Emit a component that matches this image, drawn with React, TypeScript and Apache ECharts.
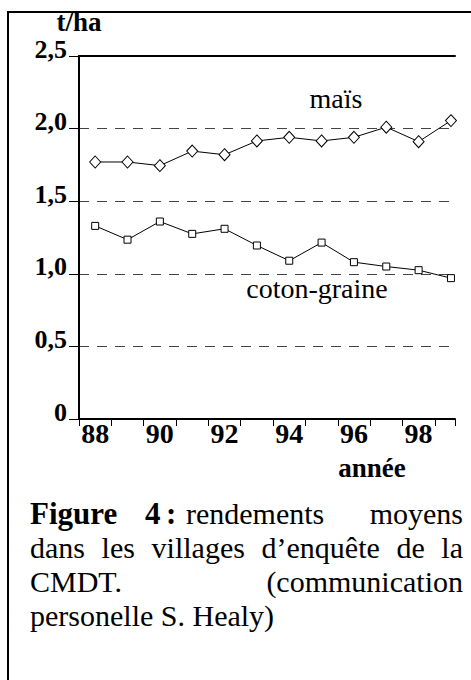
import React, { useEffect, useRef } from 'react';
import * as echarts from 'echarts';

// ---- data ----
const years = [88, 89, 90, 91, 92, 93, 94, 95, 96, 97, 98, 99];
const maisValues = [1.77, 1.77, 1.745, 1.845, 1.82, 1.915, 1.94, 1.915, 1.94, 2.01, 1.91, 2.055];
const cotonValues = [1.33, 1.235, 1.36, 1.275, 1.31, 1.195, 1.09, 1.215, 1.08, 1.05, 1.025, 0.97];
const xLabelYears = [88, 90, 92, 94, 96, 98];
const yTickLabels = ['0', '0,5', '1,0', '1,5', '2,0', '2,5'];
const seriesNames = ['maïs', 'coton-graine'];
const yAxisName = 't/ha';
const xAxisName = 'année';
const captionLine1 = ['Figure', '4', ':', 'rendements', 'moyens'];
const captionLine2 = ['dans', 'les', 'villages', 'd’enquête', 'de', 'la'];
const captionLine3 = ['CMDT.', '(communication'];
const captionLine4 = 'personelle S. Healy)';

const FONT = '"Liberation Serif", "Times New Roman", serif';

function measure(text: string, size: number, bold: boolean): number {
  const c = document.createElement('canvas').getContext('2d');
  if (!c) return text.length * size * 0.5;
  c.font = `${bold ? 'bold ' : ''}${size}px "Liberation Serif"`;
  return c.measureText(text).width;
}

function txt(text: string, x: number, y: number, size: number, bold: boolean, align = 'left') {
  return {
    type: 'text',
    x,
    y,
    silent: true,
    style: {
      text,
      fontFamily: FONT,
      fontSize: size,
      fontWeight: bold ? 'bold' : 'normal',
      fill: '#000',
      align,
      verticalAlign: 'middle',
    },
  };
}

export default function App() {
  const ref = useRef<HTMLDivElement>(null);

  useEffect(() => {
    if (!ref.current) return;
    const chart = echarts.init(ref.current, undefined, { renderer: 'svg' });

    const capSize = 30;
    const left = 30;
    const right = 463;
    // justify line 2
    const w2 = captionLine2.map((w) => measure(w, capSize, false));
    const sum2 = w2.reduce((a, b) => a + b, 0);
    const gap2 = (right - left - sum2) / (captionLine2.length - 1);
    const line2: any[] = [];
    let cx = left;
    captionLine2.forEach((w, i) => {
      line2.push(txt(w, cx, 547, capSize, false, 'left'));
      cx += w2[i] + gap2;
    });

    const option: any = {
      animation: false,
      grid: { left: 79, top: 56, right: 16, bottom: 261, containLabel: false, outerBoundsMode: 'none' },
      xAxis: [
        {
          type: 'value',
          position: 'bottom',
          min: 87.5,
          max: 99.125,
          interval: 0.5,
          axisLine: { show: true, onZero: false, lineStyle: { color: '#000', width: 2 } },
          axisTick: { show: false },
          splitLine: { show: false },
          axisLabel: {
            margin: 0,
            color: '#000',
            fontFamily: FONT,
            fontWeight: 'bold',
            fontSize: 28,
            formatter: (v: number) => {
              const r = Math.round(v);
              return Math.abs(v - r) < 1e-6 && xLabelYears.indexOf(r) >= 0 ? String(r) : '';
            },
          },
        },
        {
          type: 'value',
          position: 'bottom',
          min: 87.5,
          max: 99.125,
          interval: 1,
          axisLine: { show: false, onZero: false },
          axisTick: { show: true, length: 7, lineStyle: { color: '#000', width: 1 } },
          axisLabel: { show: false },
          splitLine: { show: false },
        },
        {
          type: 'value',
          position: 'top',
          min: 87.5,
          max: 99.125,
          axisLine: { show: true, onZero: false, lineStyle: { color: '#000', width: 2 } },
          axisTick: { show: false },
          axisLabel: { show: false },
          splitLine: { show: false },
        },
      ],
      yAxis: {
        type: 'value',
        min: 0,
        max: 2.5,
        interval: 0.5,
        name: yAxisName,
        nameLocation: 'end',
        nameGap: 21,
        nameTextStyle: {
          color: '#000',
          fontFamily: FONT,
          fontWeight: 'bold',
          fontSize: 27,
          lineHeight: 27,
          align: 'center',
        },
        axisLine: { show: true, lineStyle: { color: '#000', width: 2 } },
        axisTick: { show: true, length: 10, lineStyle: { color: '#000', width: 1 } },
        axisLabel: {
          margin: 12,
          color: '#000',
          fontFamily: FONT,
          fontWeight: 'bold',
          fontSize: 26,
          lineHeight: 14,
          verticalAlign: 'bottom',
          formatter: (v: number) => yTickLabels[Math.round(v / 0.5)] ?? '',
        },
        splitLine: { show: true, lineStyle: { color: '#444', width: 1, type: [10, 8] } },
      },
      series: [
        {
          type: 'line',
          name: seriesNames[0],
          xAxisIndex: 0,
          data: years.map((y, i) => [y, maisValues[i]]),
          symbol: 'diamond',
          symbolSize: [11, 12],
          showAllSymbol: true,
          silent: true,
          lineStyle: { color: '#000', width: 1 },
          itemStyle: { color: '#fff', borderColor: '#000', borderWidth: 1 },
          z: 3,
        },
        {
          type: 'line',
          name: seriesNames[1],
          xAxisIndex: 0,
          data: years.map((y, i) => [y, cotonValues[i]]),
          symbol: 'rect',
          symbolSize: 7,
          showAllSymbol: true,
          silent: true,
          lineStyle: { color: '#000', width: 1 },
          itemStyle: { color: '#fff', borderColor: '#000', borderWidth: 1 },
          z: 3,
        },
      ],
      graphic: [
        {
          type: 'rect',
          silent: true,
          shape: { x: 8, y: 12, width: 600, height: 800 },
          style: { fill: 'none', stroke: '#000', lineWidth: 2 },
        },
        txt(seriesNames[0], 336, 98, 28, false, 'center'),
        txt(seriesNames[1], 317, 288, 28, false, 'center'),
        txt(xAxisName, 372, 468, 27, true, 'center'),
        txt(captionLine1[0], 30, 513, 31, true, 'left'),
        txt(captionLine1[1], 145, 513, 31, true, 'left'),
        txt(captionLine1[2], 166, 513, 31, true, 'left'),
        txt(captionLine1[3], 186, 513, capSize, false, 'left'),
        txt(captionLine1[4], right, 513, capSize, false, 'right'),
        ...line2,
        txt(captionLine3[0], left, 581, capSize, false, 'left'),
        txt(captionLine3[1], right, 581, capSize, false, 'right'),
        txt(captionLine4, left, 615, capSize, false, 'left'),
      ],
    };

    chart.setOption(option);
    return () => chart.dispose();
  }, []);

  return (
    <div
      ref={ref}
      style={{ position: 'fixed', left: 0, top: 0, width: 471, height: 680, background: '#fff' }}
    />
  );
}
